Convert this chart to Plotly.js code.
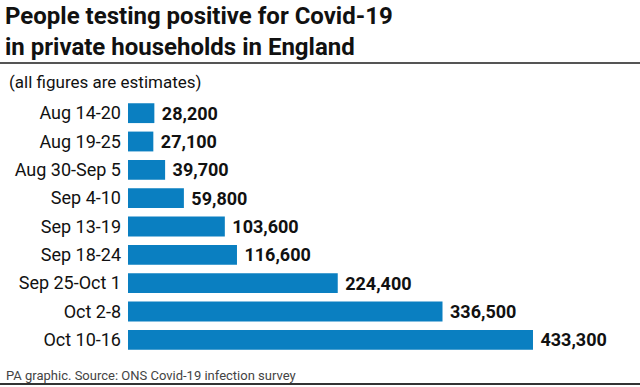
<!DOCTYPE html>
<html><head><meta charset="utf-8">
<script src="https://cdn.plot.ly/plotly-3.0.1.min.js"></script>
<style>html,body{margin:0;padding:0;background:#fff;}#chart{width:640px;height:387px;}</style>
</head><body><div id="chart"></div>
<script>
const categories = ["Aug 14-20","Aug 19-25","Aug 30-Sep 5","Sep 4-10","Sep 13-19","Sep 18-24","Sep 25-Oct 1","Oct 2-8","Oct 10-16"];
const values = [28200,27100,39700,59800,103600,116600,224400,336500,433300];
const valueLabels = ["28,200","27,100","39,700","59,800","103,600","116,600","224,400","336,500","433,300"];

const F = "Roboto, 'Liberation Sans', Arial, sans-serif";
const trace = {
  type: "bar", orientation: "h",
  y: categories, x: values,
  text: valueLabels.map(s => "\u00a0" + s), textposition: "outside",
  constraintext: "none",
  textfont: {family: F, size: 18, color: "#111", weight: 700},
  marker: {color: "#0a7fc1"},
  cliponaxis: false, hoverinfo: "skip"
};
const layout = {
  width: 640, height: 387,
  margin: {l: 128, r: 40, t: 99, b: 33},
  paper_bgcolor: "#fff", plot_bgcolor: "#fff",
  showlegend: false, bargap: 0.3,
  xaxis: {range: [0, 505000], visible: false, fixedrange: true},
  yaxis: {autorange: "reversed", showgrid: false, zeroline: false, showline: false,
          ticks: "", ticklabelstandoff: 6,
          tickfont: {family: F, size: 18, color: "#111"}},
  shapes: [
    {type: "line", xref: "paper", yref: "paper", x0: -128/472, x1: 1 + 40/472, y0: 1 + 36/255, y1: 1 + 36/255, line: {color: "#555", width: 2}},
    {type: "line", xref: "paper", yref: "paper", x0: -128/472, x1: 1 + 40/472, y0: -30/255, y1: -30/255, line: {color: "#333", width: 2}}
  ],
  annotations: [
    {text: "<b>People testing positive for Covid-19<br>in private households in England</b>", xref: "paper", yref: "paper",
     x: -125/472, y: 1 + 99/255, xanchor: "left", yanchor: "top", align: "left", showarrow: false,
     font: {family: F, size: 24, color: "#111"}},
    {text: "(all figures are estimates)", xref: "paper", yref: "paper",
     x: -121/472, y: 1 + 29/255, xanchor: "left", yanchor: "top", align: "left", showarrow: false,
     font: {family: F, size: 17, color: "#111"}},
    {text: "PA graphic. Source: ONS Covid-19 infection survey", xref: "paper", yref: "paper",
     x: -124/472, y: -12/255, xanchor: "left", yanchor: "top", align: "left", showarrow: false,
     font: {family: F, size: 13, color: "#444"}}
  ]
};
Plotly.newPlot("chart", [trace], layout, {displayModeBar: false, staticPlot: true});
</script></body></html>
